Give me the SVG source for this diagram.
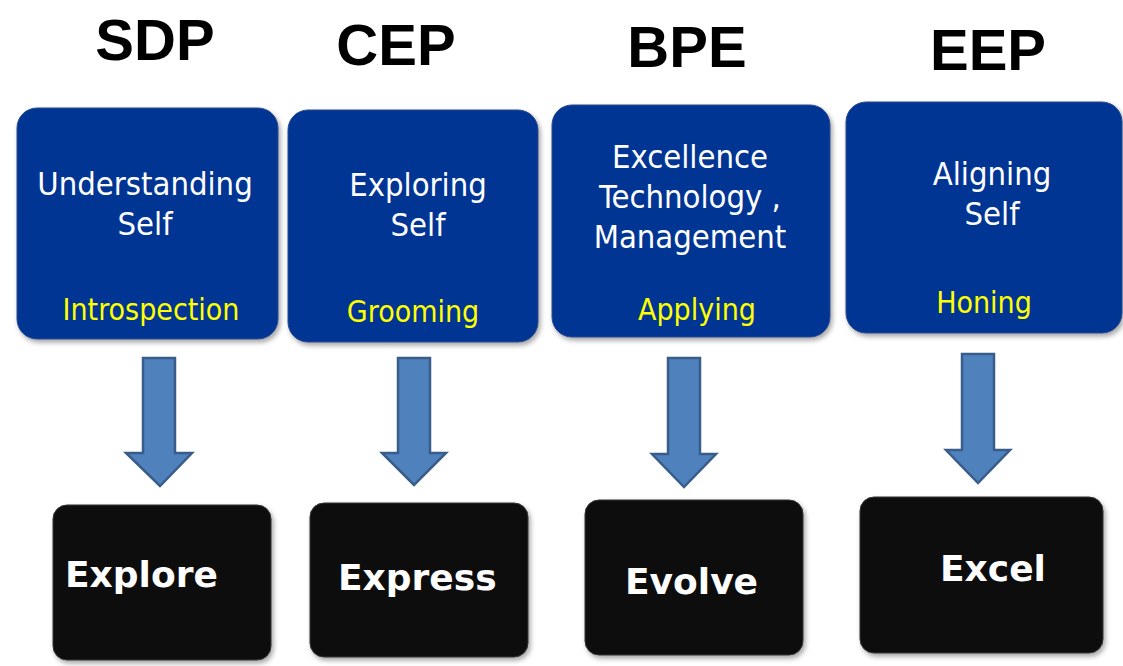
<svg xmlns="http://www.w3.org/2000/svg" width="1123" height="666" viewBox="0 0 1123 666">
<defs>
<filter id="sh" x="-10%" y="-10%" width="125%" height="125%">
<feDropShadow dx="2" dy="3" stdDeviation="2.5" flood-color="#000" flood-opacity="0.35"/>
</filter>
<style>
.blue{fill:#003594;stroke:#2a4a8a;stroke-width:1;filter:url(#sh)}
.black{fill:#111111;stroke:#333;stroke-width:1;filter:url(#sh)}
.arrow{fill:#4F81BD;stroke:#385D8A;stroke-width:2.5;stroke-linejoin:miter}
.title{font-family:"Liberation Sans",Arial,sans-serif;font-weight:bold;font-size:58px;fill:#000;text-anchor:middle}
.w{font-family:"DejaVu Sans Condensed","DejaVu Sans",sans-serif;font-size:32.5px;fill:#fff;text-anchor:middle}
.y{font-family:"DejaVu Sans Condensed","DejaVu Sans",sans-serif;font-size:30px;fill:#ffff00;text-anchor:middle}
.k{font-family:"DejaVu Sans",Verdana,sans-serif;font-weight:bold;font-size:36px;fill:#fff}
</style>
</defs>
<g id="titles">
<text class="title" x="155" y="60">SDP</text>
<text class="title" x="396" y="65">CEP</text>
<text class="title" x="687" y="67">BPE</text>
<text class="title" x="988" y="70">EEP</text>
</g>
<g id="node-sdp">
<rect class="blue" x="17" y="108" width="261" height="231" rx="20"/>
<text class="w" x="145" y="195">Understanding</text>
<text class="w" x="145" y="235">Self</text>
<text class="y" x="151" y="320">Introspection</text>
</g>
<g id="node-cep">
<rect class="blue" x="288" y="110" width="250" height="232" rx="20"/>
<text class="w" x="418" y="196">Exploring</text>
<text class="w" x="418" y="236">Self</text>
<text class="y" x="413" y="322">Grooming</text>
</g>
<g id="node-bpe">
<rect class="blue" x="552" y="105" width="278" height="232" rx="20"/>
<text class="w" x="690" y="168">Excellence</text>
<text class="w" x="690" y="208">Technology ,</text>
<text class="w" x="690" y="248">Management</text>
<text class="y" x="697" y="320">Applying</text>
</g>
<g id="node-eep">
<rect class="blue" x="846" y="102" width="276" height="231" rx="20"/>
<text class="w" x="992" y="185">Aligning</text>
<text class="w" x="992" y="225">Self</text>
<text class="y" x="984" y="313">Honing</text>
</g>
<g id="node-explore">
<rect class="black" x="53" y="505" width="218" height="155" rx="14"/>
<text class="k" x="65" y="587">Explore</text>
</g>
<g id="node-express">
<rect class="black" x="310" y="503" width="218" height="154" rx="14"/>
<text class="k" x="338" y="590">Express</text>
</g>
<g id="node-evolve">
<rect class="black" x="585" y="500" width="218" height="155" rx="14"/>
<text class="k" x="625" y="594">Evolve</text>
</g>
<g id="node-excel">
<rect class="black" x="860" y="497" width="243" height="156" rx="14"/>
<text class="k" x="940" y="581">Excel</text>
</g>
<g id="connectors">
<polygon class="arrow" points="143,358 175,358 175,453 192,453 160,486 126,453 143,453"/>
<polygon class="arrow" points="398,358 430,358 430,453 446,453 414,485 382,453 398,453"/>
<polygon class="arrow" points="668,358 700,358 700,454 716,454 684,487 652,454 668,454"/>
<polygon class="arrow" points="962,354 994,354 994,450 1010,450 978,483 946,450 962,450"/>
</g>
</svg>
